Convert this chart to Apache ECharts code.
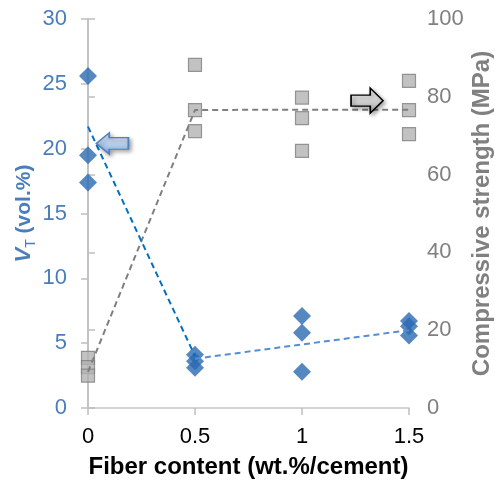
<!DOCTYPE html>
<html><head><meta charset="utf-8">
<script src="https://cdn.jsdelivr.net/npm/echarts@6/dist/echarts.min.js"></script>
<style>html,body{margin:0;padding:0;background:#fff}#c{width:495px;height:480px}</style>
</head><body><div id="c"></div>
<script>
// Fiber content (wt.%/cement)
const fiber = [0, 0.5, 1, 1.5];
// V_T (vol.%) individual specimens: [fiber, value]
const vtPoints = [
  [0, 25.6], [0, 19.5], [0, 17.4],
  [0.5, 4.1], [0.5, 3.6], [0.5, 3.1],
  [1, 7.1], [1, 5.8], [1, 2.8],
  [1.5, 6.7], [1.5, 6.3], [1.5, 5.6]
];
// Compressive strength (MPa) individual specimens
const csPoints = [
  [0, 12.9], [0, 10.5], [0, 8.3],
  [0.5, 88.2], [0.5, 76.6], [0.5, 71.2],
  [1, 79.8], [1, 74.5], [1, 66.1],
  [1.5, 84.1], [1.5, 76.6], [1.5, 70.4]
];
// Trend lines
const vtTrendA = [[0, 21.7], [0.5, 4.0]];
const vtTrendB = [[0.5, 3.8], [1, 4.9], [1.5, 6.0]];
const csTrend = [[0, 9.3], [0.5, 76.6], [1, 76.7], [1.5, 76.7]];
// Annotation arrows (data coords on left axis)
const arrowLeftAt = [0.114, 20.4];
const arrowRightAt = [1.304, 23.7];

const blueTxt = '#4A7EBB', grayTxt = '#808080', axisCol = '#BFBFBF';
const FF = 'Liberation Sans';
const chart = echarts.init(document.getElementById('c'));
chart.setOption({
  animation: false,
  grid: {left: 88, right: 86, top: 19, bottom: 72, containLabel: false, outerBoundsMode: 'none'},
  xAxis: [{
    type: 'value', min: 0, max: 1.5, interval: 0.5,
    name: 'Fiber content (wt.%/cement)', nameLocation: 'middle', nameGap: 47, nameMoveOverlap: false,
    nameTextStyle: {fontFamily: FF, fontWeight: 'bold', fontSize: 24, color: '#000'},
    axisLine: {lineStyle: {color: axisCol, width: 1.5}},
    axisTick: {show: true, length: 7, lineStyle: {color: axisCol, width: 1.5}},
    axisLabel: {fontFamily: FF, fontSize: 22, color: '#000', margin: 18},
    splitLine: {show: false}
  }, {
    type: 'value', position: 'top', min: 0, max: 1.5,
    axisLine: {show: true, lineStyle: {color: '#D9D9D9', width: 1.5}},
    axisTick: {show: false}, axisLabel: {show: false}, splitLine: {show: false}
  }],
  yAxis: [{
    type: 'value', min: 0, max: 30, interval: 5, position: 'left',
    name: '{v|V}{s|T}{n| (vol.%)}', nameLocation: 'middle', nameGap: 53, nameMoveOverlap: false,
    nameTextStyle: {
      color: blueTxt, fontFamily: FF, fontWeight: 'bold', fontSize: 21,
      rich: {
        v: {fontStyle: 'italic', fontWeight: 'bold', fontSize: 22, color: blueTxt, fontFamily: FF, verticalAlign: 'bottom'},
        s: {fontSize: 14, fontWeight: 'normal', color: blueTxt, fontFamily: FF, verticalAlign: 'bottom', padding: [0, 0, -3, 0]},
        n: {fontSize: 21, fontWeight: 'bold', color: blueTxt, fontFamily: FF, verticalAlign: 'bottom'}
      }
    },
    axisLine: {show: true, lineStyle: {color: axisCol, width: 1.5}},
    axisTick: {show: true, length: 7, lineStyle: {color: axisCol, width: 1.5}},
    axisLabel: {fontFamily: FF, fontSize: 22, color: blueTxt, margin: 21},
    splitLine: {show: false}
  }, {
    type: 'value', min: 0, max: 100, interval: 20, position: 'right',
    name: 'Compressive strength (MPa)', nameLocation: 'middle', nameGap: 61, nameMoveOverlap: false,
    nameRotate: 90,
    nameTextStyle: {color: grayTxt, fontFamily: FF, fontWeight: 'bold', fontSize: 24},
    axisLine: {show: true, lineStyle: {color: axisCol, width: 1.5}},
    axisTick: {show: true, length: 7, lineStyle: {color: axisCol, width: 1.5}},
    axisLabel: {fontFamily: FF, fontSize: 22, color: grayTxt, margin: 18},
    splitLine: {show: false}
  }],
  series: [
    {type: 'scatter', yAxisIndex: 1, data: csPoints, symbol: 'rect', symbolSize: 13,
     itemStyle: {color: '#B3B3B3', borderColor: '#7F7F7F', borderWidth: 1.2}, z: 2},
    {type: 'scatter', yAxisIndex: 0, data: vtPoints, symbol: 'diamond', symbolSize: [18, 18],
     itemStyle: {color: '#2B69B2'}, z: 3,
     markPoint: {
       silent: true, z: 6,
       label: {show: false},
       data: [{
         coord: arrowLeftAt,
         symbol: 'path://M0,10 L12,0 L12,4.5 L30,4.5 L30,15.5 L12,15.5 L12,20 Z',
         symbolSize: [32, 21], symbolKeepAspect: false,
         itemStyle: {
           color: new echarts.graphic.LinearGradient(0, 0, 0, 1, [{offset: 0, color: '#E2ECFA'}, {offset: 1, color: '#8FB2E3'}]),
           borderColor: '#4F81BD', borderWidth: 1.5,
           shadowBlur: 4, shadowColor: 'rgba(0,0,0,0.35)', shadowOffsetX: 2, shadowOffsetY: 2
         }
       }, {
         coord: arrowRightAt,
         symbol: 'path://M0,7 L18,7 L18,0 L30,12.5 L18,25 L18,18 L0,18 Z',
         symbolSize: [32, 25], symbolKeepAspect: false,
         itemStyle: {
           color: new echarts.graphic.LinearGradient(0, 0, 0, 1, [{offset: 0, color: '#FFFFFF'}, {offset: 1, color: '#A6A6A6'}]),
           borderColor: '#000000', borderWidth: 1.5,
           shadowBlur: 4, shadowColor: 'rgba(0,0,0,0.35)', shadowOffsetX: 2, shadowOffsetY: 2
         }
       }]
     }},
    {type: 'line', yAxisIndex: 1, data: csTrend, showSymbol: false, symbol: 'none',
     lineStyle: {color: '#7F7F7F', width: 2, type: [6, 4]}, z: 4},
    {type: 'line', yAxisIndex: 0, data: vtTrendA, showSymbol: false, symbol: 'none',
     lineStyle: {color: '#0070C0', width: 2, type: [6, 4]}, z: 4},
    {type: 'line', yAxisIndex: 0, data: vtTrendB, showSymbol: false, symbol: 'none',
     lineStyle: {color: '#558ED5', width: 2, type: [6, 4]}, z: 4}
  ]
});
</script></body></html>
